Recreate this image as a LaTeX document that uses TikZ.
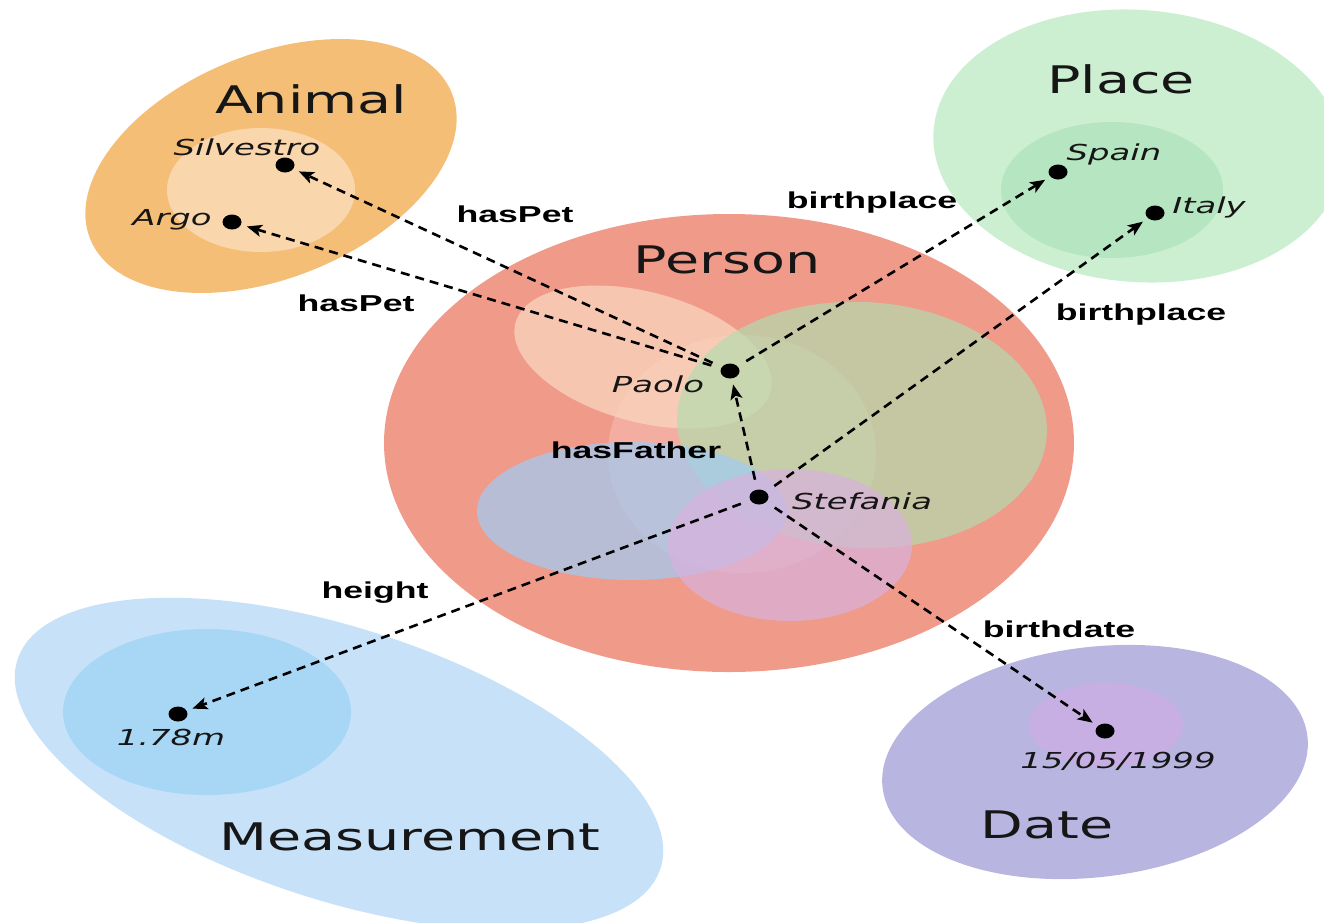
\documentclass[tikz,border=0pt]{standalone}
\usepackage{fontspec}
\usetikzlibrary{arrows.meta,shapes.geometric}

% Wide faces for the class names, individuals and properties
\newfontfamily\classfont[FakeStretch=1.46]{DejaVu Sans}
\newfontfamily\indfont[FakeStretch=1.54]{DejaVu Sans}
\newfontfamily\propfont[FakeStretch=1.55]{Liberation Sans}

\definecolor{animalout}{HTML}{F5BE76}
\definecolor{animalin}{HTML}{FAD6AC}
\definecolor{placeout}{HTML}{CCEFD1}
\definecolor{placein}{HTML}{B6E6C1}
\definecolor{personbg}{HTML}{F09A8A}
\definecolor{peachset}{HTML}{FAD6BE}
\definecolor{greenset}{HTML}{B2DDAE}
\definecolor{blueset}{HTML}{9FCCF4}
\definecolor{pinkset}{HTML}{D9B1DD}
\definecolor{measout}{HTML}{C7E1F8}
\definecolor{measin}{HTML}{A8D7F6}
\definecolor{dateout}{HTML}{B9B5E1}
\definecolor{datein}{HTML}{C7AFE3}
\definecolor{inkc}{HTML}{161616}

\tikzset{
  classname/.style={font=\classfont\fontsize{38}{40}\selectfont, text=inkc, anchor=base, inner sep=0pt},
  indname/.style={font=\indfont\itshape\fontsize{22}{24}\selectfont, text=inkc, anchor=base, inner sep=0pt},
  propname/.style={font=\propfont\bfseries\fontsize{23}{25}\selectfont, text=black, anchor=base, inner sep=0pt},
  individual/.style={ellipse, fill=black, minimum width=19pt, minimum height=15pt, inner sep=0pt},
  rel/.style={draw=black, line width=2.6pt, dash pattern=on 9pt off 6pt,
    -{Stealth[length=15pt,width=12pt,inset=3.5pt]}, shorten <=10pt, shorten >=6pt}
}

\begin{document}
\begin{tikzpicture}[x=1pt,y=-1pt]
\useasboundingbox (0,0) rectangle (1324,922);

% Animal
\fill[animalout, rotate around={22:(271,166)}] (271,166) ellipse [x radius=195, y radius=112];
\fill[animalin] (261,190) ellipse [x radius=94, y radius=62];

% Place
\fill[placeout, rotate around={-4.5:(1138,146)}] (1138,146) ellipse [x radius=205, y radius=136];
\fill[placein] (1112,190) ellipse [x radius=111, y radius=68];

% Measurement
\fill[measout, rotate around={-18:(339,764)}] (339,764) ellipse [x radius=338, y radius=136];
\fill[measin] (207,712) ellipse [x radius=144, y radius=83];

% Date
\fill[dateout, rotate around={7:(1095,762)}] (1095,762) ellipse [x radius=214, y radius=115];
\fill[datein] (1106,725) ellipse [x radius=77, y radius=42];

% Person and its overlapping subsets
\fill[personbg] (729,443) ellipse [x radius=345, y radius=229];
\fill[white, fill opacity=0.2] (742,454) ellipse [x radius=134, y radius=119];
\fill[peachset, fill opacity=0.75, rotate around={-15:(643,357)}] (643,357) ellipse [x radius=132, y radius=65];
\fill[greenset, fill opacity=0.68, rotate around={-3:(862,425)}] (862,425) ellipse [x radius=185, y radius=123];
\fill[blueset, fill opacity=0.7] (632,511) ellipse [x radius=155, y radius=69];
\fill[pinkset, fill opacity=0.7] (790,545) ellipse [x radius=122, y radius=76];

% Class names
\node[classname] (tAnimal) at (311,113) {Animal};
\node[classname] (tPlace) at (1121,93) {Place};
\node[classname] (tPerson) at (727,273) {Person};
\node[classname] (tMeas) at (410,850) {Measurement};
\node[classname] (tDate) at (1047,838) {Date};

% Individuals
\node[individual] (silvestro) at (285,165) {};
\node[individual] (argo) at (232,222) {};
\node[individual] (spain) at (1058,172) {};
\node[individual] (italy) at (1155,213) {};
\node[individual] (paolo) at (730,371) {};
\node[individual] (stefania) at (759,497) {};
\node[individual] (height) at (178,714) {};
\node[individual] (bdate) at (1105,731) {};

\node[indname] (lSilvestro) at (247,155) {Silvestro};
\node[indname] (lArgo) at (172,225) {Argo};
\node[indname] (lSpain) at (1114,160) {Spain};
\node[indname] (lItaly) at (1209,213) {Italy};
\node[indname] (lPaolo) at (658,392) {Paolo};
\node[indname] (lStefania) at (862,509) {Stefania};
\node[indname] (lHeight) at (171,745) {1.78m};
\node[indname] (lDate) at (1118,768) {15/05/1999};

% Properties
\draw[rel] (paolo) -- (silvestro);
\draw[rel] (paolo) -- (argo);
\draw[rel] (paolo) -- (spain);
\draw[rel] (stefania) -- (paolo);
\draw[rel] (stefania) -- (italy);
\draw[rel] (stefania) -- (height);
\draw[rel] (stefania) -- (bdate);

\node[propname] (pPet1) at (515,222) {hasPet};
\node[propname] (pPet2) at (356,311) {hasPet};
\node[propname] (pBirth1) at (872,208) {birthplace};
\node[propname] (pBirth2) at (1141,320) {birthplace};
\node[propname] (pFather) at (636,458) {hasFather};
\node[propname] (pHeight) at (375,598) {height};
\node[propname] (pBdate) at (1059,637) {birthdate};
\end{tikzpicture}
\end{document}
